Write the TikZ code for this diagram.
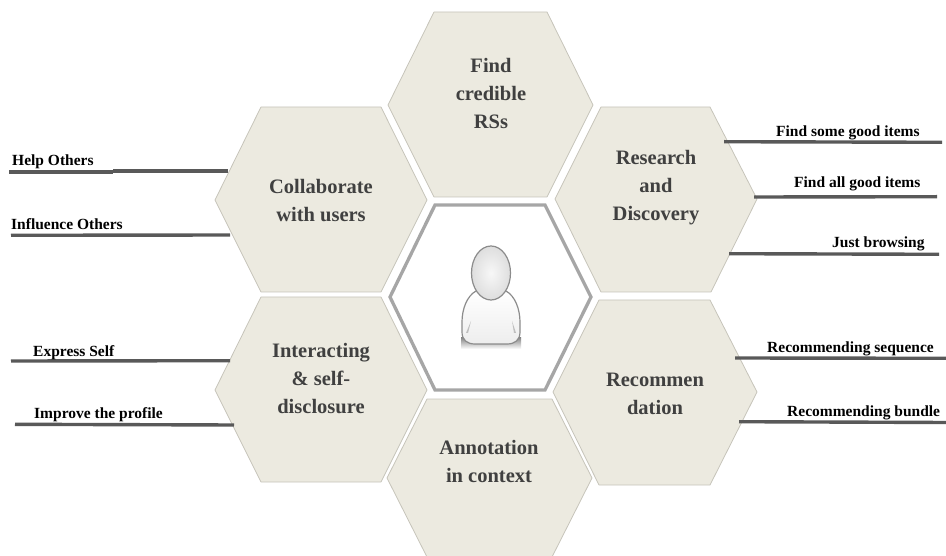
\documentclass[tikz,border=0pt]{standalone}
\usepackage{fontspec}
\usepackage{xcolor}
\usepackage{tikz}
\setmainfont{Liberation Serif}
\definecolor{cellfill}{HTML}{ECEAE0}
\definecolor{celledge}{HTML}{C6C4BA}
\definecolor{celltext}{HTML}{404040}
\definecolor{leadgray}{HTML}{595959}
\definecolor{ringgray}{HTML}{A6A6A6}
\definecolor{icongray}{HTML}{8C8C8C}

\begin{document}
\begin{tikzpicture}[x=1pt,y=-1pt,
    cell/.style = {draw=celledge, fill=cellfill, line width=0.8pt, line join=round},
    ring/.style = {draw=ringgray, fill=white, line width=3.3pt, line join=miter},
    celllabel/.style = {anchor=center, align=center, text=celltext,
                   font=\fontsize{20.5}{28}\selectfont\bfseries, inner sep=0pt},
    leadlabel/.style = {anchor=base west, text=black,
                   font=\fontsize{15.5}{18}\selectfont\bfseries, inner sep=0pt},
    lead/.style = {draw=leadgray, line width=3.4pt}]
  \useasboundingbox (0,0) rectangle (946,556);

  % hexagons
  \draw[cell] (388,105) -- (434,12) -- (547,12) -- (593,105) -- (547,197) -- (434,197) -- cycle;
  \draw[cell] (215,200) -- (261,107) -- (381,107) -- (427,200) -- (381,292) -- (261,292) -- cycle;
  \draw[cell] (555,199) -- (601,107) -- (710,107) -- (757,199) -- (711,292) -- (601,292) -- cycle;
  \draw[cell] (215,390) -- (261,297) -- (381,297) -- (427,390) -- (381,482) -- (261,482) -- cycle;
  \draw[cell] (553,392) -- (599,300) -- (710,300) -- (757,392) -- (710,485) -- (599,485) -- cycle;
  \draw[cell] (387,478) -- (427,399) -- (552,399) -- (592,478) -- (552,557) -- (427,557) -- cycle;
  \draw[ring] (390,297) -- (435,205) -- (545,205) -- (591,297) -- (545,390) -- (435,390) -- cycle;

  % person
  \shade[top color=black!45, bottom color=white] (461,338) rectangle (521,349);
  \draw[icongray, line width=1.2pt, top color=white, bottom color=black!7]
    (476,291) .. controls (467,296) and (462,309) .. (462,322) -- (462,332)
    .. controls (462,340) and (467,344) .. (475,344) -- (507,344)
    .. controls (515,344) and (520,340) .. (520,332) -- (520,322)
    .. controls (520,309) and (515,296) .. (506,291) -- cycle;
  \fill[black!25] (471,321) -- (466,333) -- (468,333) -- cycle;
  \fill[black!25] (512,321) -- (516,333) -- (514,333) -- cycle;
  \draw[icongray, line width=1.2pt, inner color=black!3, outer color=black!13]
    (491,273) ellipse (19.5 and 27);

  % cell labels
  \node (find) [celllabel] at (491,93) {Find\\credible\\RSs};
  \node (collab) [celllabel] at (321,201) {Collaborate\\with users};
  \node (research) [celllabel] at (656,188) {Research\\and\\Discovery};
  \node (interact) [celllabel] at (321,379) {Interacting\\\& self-\\disclosure};
  \node (recomm) [celllabel] at (655,394) {Recommen\\dation};
  \node (annot) [celllabel] at (489,461) {Annotation\\in context};

  % lines
  \coordinate (help1) at (9,172);
  \coordinate (help2) at (113,172);
  \coordinate (help3) at (113,171);
  \coordinate (help4) at (228,171);
  \coordinate (infl1) at (11,235.3);
  \coordinate (infl2) at (230,235);
  \coordinate (expr1) at (11,361);
  \coordinate (expr2) at (230,360.7);
  \coordinate (impr1) at (15,424.3);
  \coordinate (impr2) at (234,425);
  \coordinate (some1) at (724,141.7);
  \coordinate (some2) at (942,142.3);
  \coordinate (all1) at (754,197);
  \coordinate (all2) at (937,196.7);
  \coordinate (brow1) at (729,253.7);
  \coordinate (brow2) at (939,254.3);
  \coordinate (seq1) at (735,358);
  \coordinate (seq2) at (946,358.3);
  \coordinate (bund1) at (739,421.7);
  \coordinate (bund2) at (946,422.5);

  \path[lead]
    (help1) edge (help2)
    (help3) edge (help4)
    (infl1) edge (infl2)
    (expr1) edge (expr2)
    (impr1) edge (impr2)
    (some1) edge (some2)
    (all1) edge (all2)
    (brow1) edge (brow2)
    (seq1) edge (seq2)
    (bund1) edge (bund2);

  % line labels
  \node (helplabel) [leadlabel] at (12,166) {Help Others};
  \node (infllabel) [leadlabel] at (11,230) {Influence Others};
  \node (exprlabel) [leadlabel] at (33,356) {Express Self};
  \node (imprlabel) [leadlabel] at (34,418.7) {Improve the profile};
  \node (somelabel) [leadlabel] at (776,136.7) {Find some good items};
  \node (alllabel) [leadlabel] at (794,188) {Find all good items};
  \node (browlabel) [leadlabel] at (832,248) {Just browsing};
  \node (seqlabel) [leadlabel] at (767,352.7) {Recommending sequence};
  \node (bundlabel) [leadlabel] at (787,416.7) {Recommending bundle};
\end{tikzpicture}
\end{document}
